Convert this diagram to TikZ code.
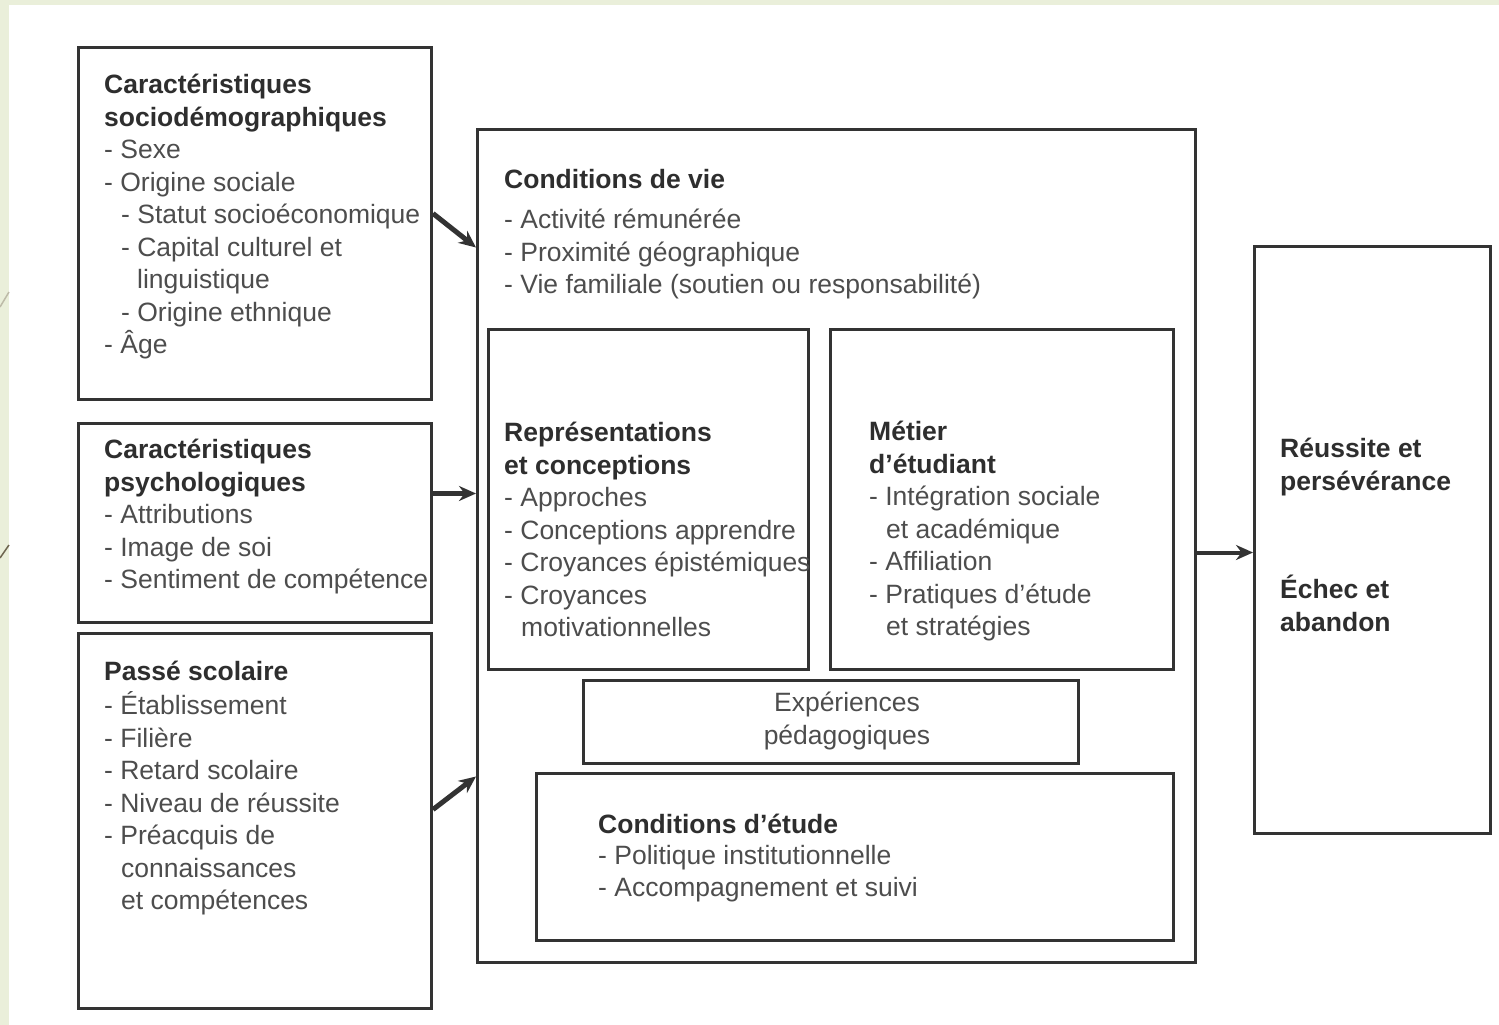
\documentclass[tikz,border=0pt]{standalone}
\usepackage{fontspec}
\setmainfont{Liberation Sans}
\usetikzlibrary{arrows.meta}
\definecolor{bgstrip}{HTML}{EAEFDA}
\definecolor{linec}{HTML}{333333}
\definecolor{boldc}{HTML}{2E2E2E}
\definecolor{txtc}{HTML}{4D4D4D}
\definecolor{decoA}{HTML}{BDBBA8}
\definecolor{decoB}{HTML}{6E6650}
\newcommand\fs{\fontsize{26.5}{32.5}\selectfont}
\newcommand\hd[1]{\textcolor{boldc}{\bfseries #1}}
\newcommand\ia{\hspace*{17pt}}
\newcommand\ib{\hspace*{33pt}}
\begin{document}
\begin{tikzpicture}[x=1pt,y=-1pt,
  box/.style={draw=linec, line width=3pt, anchor=north west, inner sep=0pt, rectangle},
  txt/.style={anchor=north west, inner sep=0pt, align=left, font=\fs, text=txtc},
  arr/.style={draw=linec, line width=5pt, -{Stealth[length=17pt,width=15pt]}},
]
\useasboundingbox (0,0) rectangle (1499,1025);
\fill[white] (0,0) rectangle (1499,1025);
\fill[bgstrip] (0,0) rectangle (1499,5);
\fill[bgstrip] (0,0) rectangle (9,1025);
\draw[decoA, line width=1.5pt] (0,307) -- (9,292);
\draw[decoB, line width=1.5pt] (0,558) -- (9,545);

% boxes
\node[box, minimum width=353pt, minimum height=352pt] (b1) at (77,46) {};
\node[box, minimum width=353pt, minimum height=199pt] (b2) at (77,422) {};
\node[box, minimum width=353pt, minimum height=375pt] (b3) at (77,632) {};
\node[box, minimum width=718pt, minimum height=833pt] (cb) at (476,128) {};
\node[box, minimum width=320pt, minimum height=340pt] (rep) at (487,328) {};
\node[box, minimum width=343pt, minimum height=340pt] (met) at (829,328) {};
\node[box, minimum width=495pt, minimum height=83pt] (exp) at (582,679) {};
\node[box, minimum width=637pt, minimum height=167pt] (ce) at (535,772) {};
\node[box, minimum width=236pt, minimum height=587pt] (res) at (1253,245) {};

% texts
\node[txt] (t1) at (104,71) {\strut\hd{Caractéristiques}\\\hd{sociodémographiques}\\- Sexe\\- Origine sociale\\\ia- Statut socioéconomique\\\ia- Capital culturel et\\\ib linguistique\\\ia- Origine ethnique\\- Âge};
\node[txt] (t2) at (104,436) {\strut\hd{Caractéristiques}\\\hd{psychologiques}\\- Attributions\\- Image de soi\\- Sentiment de compétence};
\node[txt] (t3) at (104,658) {\strut\hd{Passé scolaire}\\- Établissement\\- Filière\\- Retard scolaire\\- Niveau de réussite\\- Préacquis de\\\ia connaissances\\\ia et compétences};
\node[txt] (tc) at (504,166) {\strut\hd{Conditions de vie}\\[7.5pt]- Activité rémunérée\\- Proximité géographique\\- Vie familiale (soutien ou responsabilité)};
\node[txt] (tr) at (504,419) {\strut\hd{Représentations}\\\hd{et conceptions}\\- Approches\\- Conceptions apprendre\\- Croyances épistémiques\\- Croyances\\\ia motivationnelles};
\node[txt] (tm) at (869,418) {\strut\hd{Métier}\\\hd{d’étudiant}\\- Intégration sociale\\\ia et académique\\- Affiliation\\- Pratiques d’étude\\\ia et stratégies};
\node[txt, anchor=north, align=center] (te) at (847,689) {\strut Expériences\\pédagogiques};
\node[txt] (tce) at (598,811) {\strut\hd{Conditions d’étude}\\[-2pt]- Politique institutionnelle\\- Accompagnement et suivi};
\node[txt] (tres1) at (1280,435) {\strut\hd{Réussite et}\\\hd{persévérance}};
\node[txt] (tres2) at (1280,575) {\strut\hd{Échec et}\\\hd{abandon}};

% connectors
\draw[arr] ([yshift=10pt]b1.east) -- ([yshift=298.5pt]cb.west);
\draw[arr] ([yshift=29.5pt]b2.east) -- ([yshift=52.5pt]cb.west);
\draw[arr] ([yshift=11.5pt]b3.east) -- ([yshift=-230.5pt]cb.west);
\draw[arr, line width=4pt] ([yshift=-6.5pt]cb.east) -- ([yshift=-12.5pt]res.west);
\end{tikzpicture}
\end{document}
